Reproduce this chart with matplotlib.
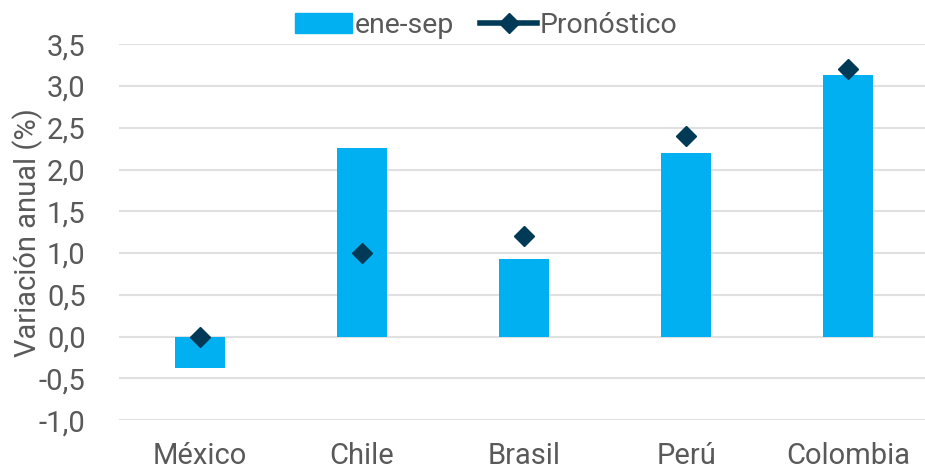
import numpy as np
import matplotlib.pyplot as plt
from matplotlib.ticker import FuncFormatter
from matplotlib.lines import Line2D
from matplotlib.patches import Patch

plt.rcParams['font.family'] = ['Roboto', 'DejaVu Sans']

# 数据
paises = ['México', 'Chile', 'Brasil', 'Perú', 'Colombia']
ene_sep = [-0.37, 2.26, 0.93, 2.20, 3.13]
pronostico = [0.0, 1.0, 1.2, 2.4, 3.2]

color_barra = '#00B0F0'
color_diamante = '#003A57'
color_texto = '#595959'

fig = plt.figure(figsize=(9.25, 4.70), dpi=100)
ax = fig.add_axes([0.1286, 0.106, 0.876, 0.80])

x = np.arange(len(paises))
ax.bar(x, ene_sep, width=0.31, color=color_barra, label='ene-sep', zorder=2)
ax.plot(x, pronostico, linestyle='none', marker='D', markersize=10,
        color=color_diamante, label='Pronóstico', zorder=3)

ax.set_xlim(-0.5, len(paises) - 0.5)
ax.set_ylim(-1.0, 3.5)
ax.set_yticks(np.arange(-1.0, 3.51, 0.5))
ax.yaxis.set_major_formatter(FuncFormatter(lambda v, p: f'{v:.1f}'.replace('.', ',')))
ax.set_xticks(x)
ax.set_xticklabels(paises)

ax.grid(axis='y', color='#E0E0E0', linewidth=1.5, zorder=0)
for s in ax.spines.values():
    s.set_visible(False)
ax.tick_params(length=0, labelsize=21, labelcolor=color_texto)
ax.tick_params(axis='y', pad=24)
ax.tick_params(axis='x', pad=16)
ax.set_ylabel('Variación anual (%)', fontsize=21, color=color_texto, labelpad=-3)

# 图例
handles = [Patch(color=color_barra),
           Line2D([0], [0], color=color_diamante, linewidth=4, marker='D', markersize=10)]
fig.legend(handles, ['ene-sep', 'Pronóstico'], loc='upper center',
           bbox_to_anchor=(0.526, 1.03), ncol=2, frameon=False, fontsize=20.5,
           labelcolor=color_texto, handlelength=2.0, handletextpad=0.1, columnspacing=0.9)

fig.savefig('out.png', dpi=100)
